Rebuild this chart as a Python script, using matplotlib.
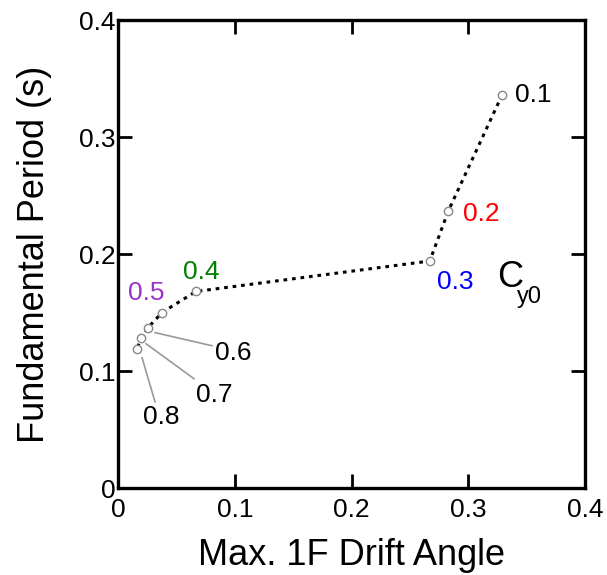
import numpy as np
import matplotlib
matplotlib.use('Agg')
import matplotlib.pyplot as plt

plt.rcParams['font.family'] = ['Liberation Sans', 'DejaVu Sans']

# Cy0 values along the curve and the (drift, period) they land on
cy0 = ['0.1', '0.2', '0.3', '0.4', '0.5', '0.6', '0.7', '0.8']
drift = [0.329, 0.283, 0.267, 0.0668, 0.0377, 0.0257, 0.0197, 0.0163]
period = [0.336, 0.237, 0.194, 0.168, 0.150, 0.137, 0.128, 0.119]
colours = ['black', 'red', 'blue', 'green', '#9933cc', 'black', 'black', 'black']

# label placement (left edge / vertical centre, data units)
lab_pos = [(0.340, 0.336), (0.2955, 0.234), (0.2732, 0.1764), (0.0555, 0.185),
           (0.0085, 0.167), (0.0831, 0.1156), (0.0668, 0.0797), (0.0214, 0.0608)]
# leader lines for the crowded ones: (x0, y0, x1, y1)
leaders = [(0.0317, 0.1328, 0.0805, 0.1216),
           (0.0240, 0.1233, 0.0651, 0.0934),
           (0.0206, 0.1113, 0.0317, 0.0737)]

fig = plt.figure(figsize=(6.07, 5.75), dpi=100)
ax = fig.add_axes([0.1944, 0.1513, 0.7694, 0.8139])

ax.plot(drift, period, ls=(0, (1.2, 1.6)), color='black', lw=2.2, zorder=2)
ax.plot(drift, period, ls='none', marker='o', ms=6, mfc='white',
        mec='#888888', mew=1.0, zorder=3)

for x0, y0, x1, y1 in leaders:
    ax.plot([x0, x1], [y0, y1], color='#999999', lw=1.2, zorder=1)

for i in range(len(cy0)):
    x, y = lab_pos[i]
    ax.text(x, y, cy0[i], color=colours[i], fontsize=19, ha='left', va='center')

ax.text(0.3246, 0.180, 'C', fontsize=26, ha='left', va='center')
ax.text(0.342, 0.163, 'y0', fontsize=17, ha='left', va='center')

ax.set_xlim(0, 0.4)
ax.set_ylim(0, 0.4)
ax.set_xticks([0, 0.1, 0.2, 0.3, 0.4])
ax.set_yticks([0, 0.1, 0.2, 0.3, 0.4])
ax.set_xticklabels(['0', '0.1', '0.2', '0.3', '0.4'])
ax.set_yticklabels(['0', '0.1', '0.2', '0.3', '0.4'])
ax.tick_params(direction='in', length=10, width=2, labelsize=19,
               top=True, right=True)
ax.tick_params(axis='x', pad=7)
ax.tick_params(axis='y', pad=2)
for s in ax.spines.values():
    s.set_linewidth(2.4)

ax.set_xlabel('Max. 1F Drift Angle', fontsize=26, labelpad=12)
ax.set_ylabel('Fundamental Period (s)', fontsize=26, labelpad=19)

fig.savefig('out.png', dpi=100)
